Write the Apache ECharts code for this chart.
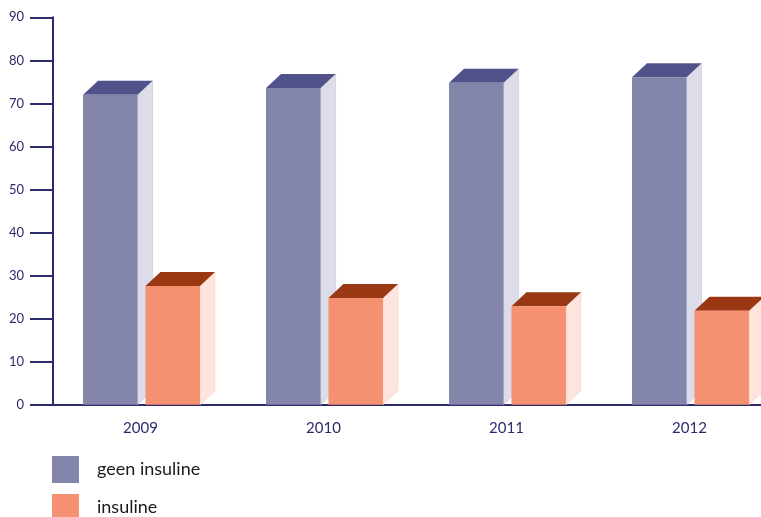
<!DOCTYPE html>
<html>
<head>
<meta charset="utf-8">
<script src="https://cdn.jsdelivr.net/npm/echarts@6/dist/echarts.min.js"></script>
<style>
  html, body { margin: 0; padding: 0; background: #fff; }
  #chart { width: 761px; height: 517px; }
</style>
</head>
<body>
<div id="chart"></div>
<script>
const years = ['2009', '2010', '2011', '2012']
const geenInsuline = [72.0, 73.6, 74.8, 76.1]
const insuline = [27.6, 24.8, 22.9, 21.8]
const yTicks = [0, 10, 20, 30, 40, 50, 60, 70, 80, 90]
const seriesNames = ['geen insuline', 'insuline']

const navy = '#2b2b6e'

// 3D blokje: voorkant, bovenkant en zijkant
function makeBox (offset, colors) {
  return function (params, api) {
    const cat = api.value(0)
    const val = api.value(1)
    const top = api.coord([cat, val])
    const base = api.coord([cat, 0])
    const band = api.size([1, 0])[0]
    const w = band * 0.298
    const dx = 15
    const dy = 14
    const x0 = top[0] + band * offset
    const x1 = x0 + w
    const y0 = top[1]
    const yb = base[1]
    return {
      type: 'group',
      children: [
        {
          type: 'polygon',
          shape: { points: [[x1, y0], [x1 + dx, y0 - dy], [x1 + dx, yb - dy], [x1, yb]] },
          style: { fill: colors.side, stroke: colors.sideEdge, lineWidth: 0.6 }
        },
        {
          type: 'polygon',
          shape: { points: [[x0, y0], [x0 + dx, y0 - dy], [x1 + dx, y0 - dy], [x1, y0]] },
          style: { fill: colors.top }
        },
        {
          type: 'rect',
          shape: { x: x0, y: y0, width: w, height: yb - y0 },
          style: { fill: colors.front }
        }
      ]
    }
  }
}

// legenda: één component per regel, anders loopt hij onderaan over
function legendRow (name, top) {
  return {
    orient: 'vertical',
    left: 52,
    top: top,
    padding: 0,
    itemWidth: 27,
    itemHeight: 27,
    icon: 'rect',
    textStyle: {
      fontFamily: 'Lato',
      fontSize: 18,
      color: '#1a1a1a',
      padding: [0, 0, 0, 13]
    },
    data: [name]
  }
}

const myChart = echarts.init(document.getElementById('chart'))
const option = {
  backgroundColor: '#ffffff',
  animation: false,
  grid: {
    left: 49,
    top: 17.3,
    width: 732,
    height: 387.4,
    outerBoundsMode: 'none'
  },
  legend: [
    legendRow(seriesNames[0], 456),
    legendRow(seriesNames[1], 494)
  ],
  xAxis: {
    type: 'category',
    data: years,
    axisTick: { show: false },
    axisLine: { lineStyle: { color: navy, width: 2 } },
    axisLabel: {
      color: navy,
      fontFamily: 'Lato',
      fontSize: 15,
      margin: 16
    }
  },
  yAxis: {
    type: 'value',
    min: yTicks[0],
    max: yTicks[yTicks.length - 1],
    interval: 10,
    offset: -4,
    splitLine: { show: false },
    axisLine: { show: true, lineStyle: { color: navy, width: 2 } },
    axisTick: { show: true, length: 23, lineStyle: { color: navy, width: 2 } },
    axisLabel: {
      color: navy,
      fontFamily: 'Lato',
      fontSize: 13,
      margin: 29
    }
  },
  series: [
    {
      name: seriesNames[0],
      type: 'custom',
      itemStyle: { color: '#8385ab' },
      renderItem: makeBox(-0.314, {
        front: '#8385ab',
        top: '#52528a',
        side: '#dddde9',
        sideEdge: '#c4c4da'
      }),
      data: geenInsuline.map((v, i) => [i, v])
    },
    {
      name: seriesNames[1],
      type: 'custom',
      itemStyle: { color: '#f59070' },
      renderItem: makeBox(0.027, {
        front: '#f59070',
        top: '#9b3814',
        side: '#fde5dd',
        sideEdge: '#f8cfc2'
      }),
      data: insuline.map((v, i) => [i, v])
    }
  ]
}
myChart.setOption(option)
window.addEventListener('resize', function () {
  myChart.resize()
})
</script>
</body>
</html>
